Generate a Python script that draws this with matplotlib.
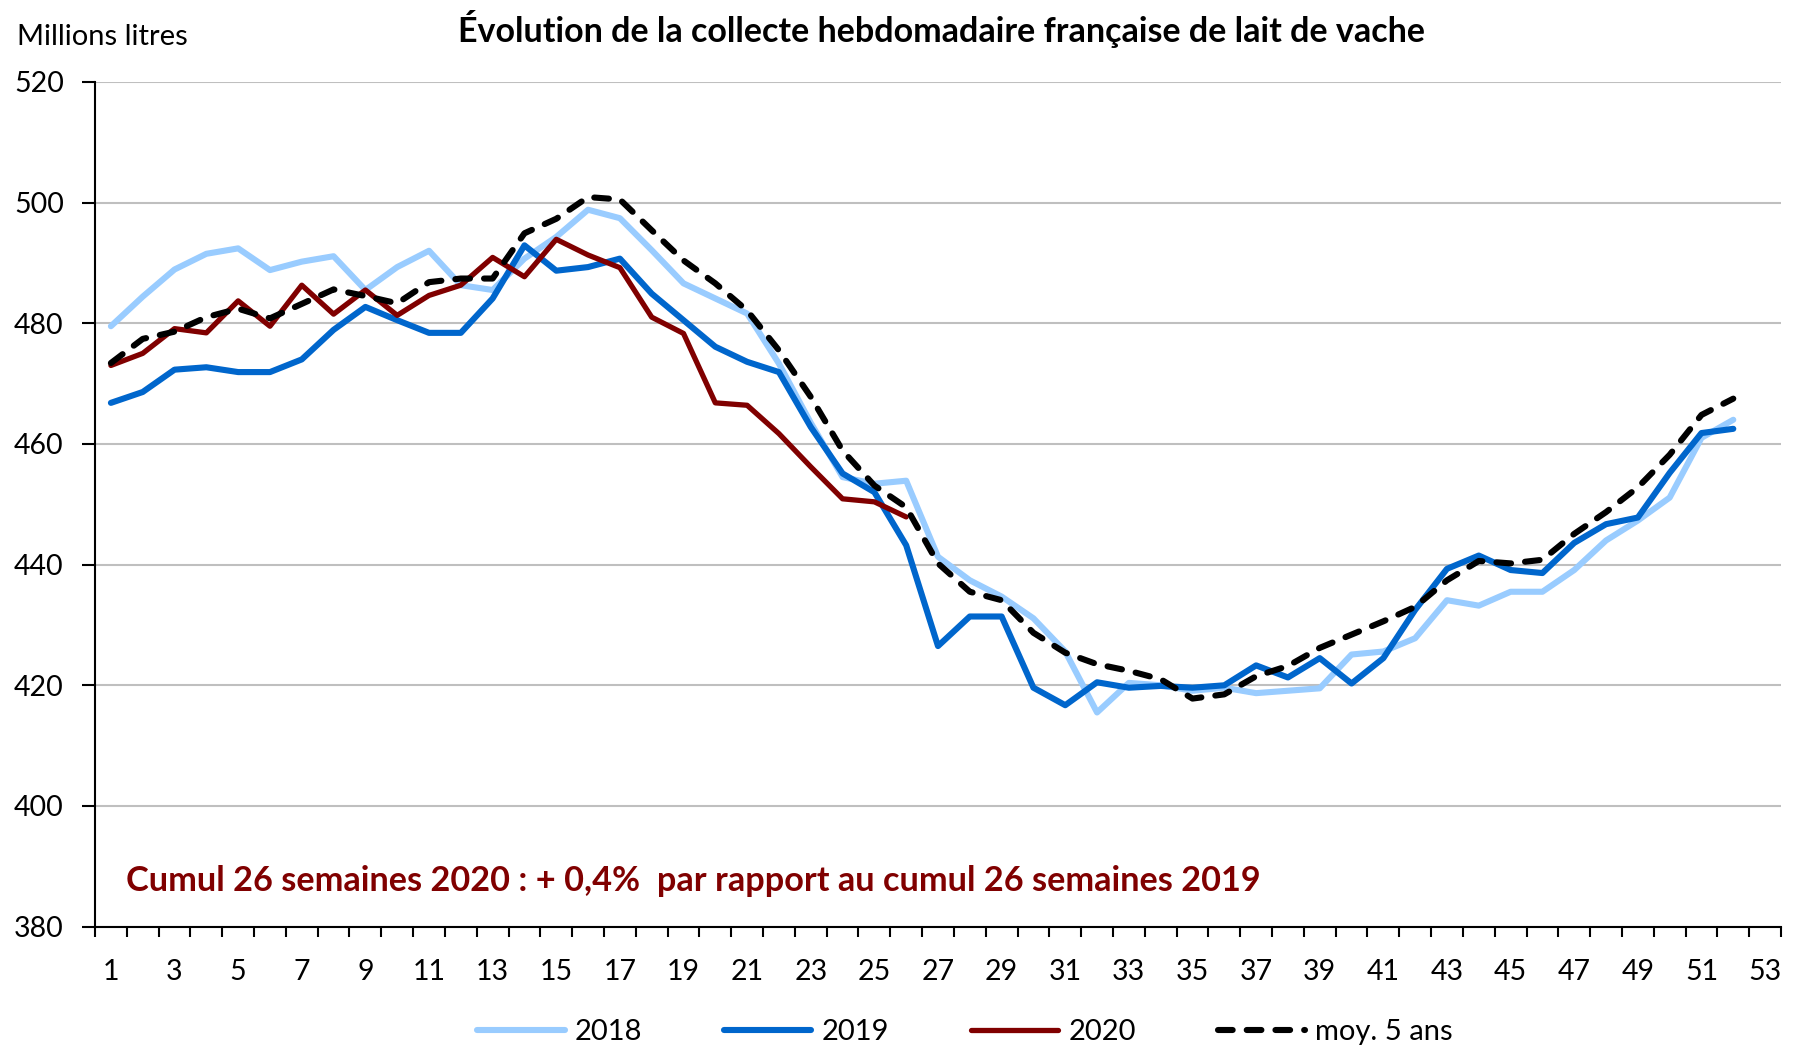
import matplotlib
matplotlib.use("Agg")
import matplotlib.pyplot as plt
from matplotlib.ticker import FixedLocator

plt.rcParams['font.family'] = ['Lato', 'DejaVu Sans']

weeks = list(range(1, 53))
weeks_2020 = list(range(1, 27))

v2018 = [479.5, 484.4, 488.9, 491.5, 492.4, 488.8, 490.2, 491.1, 485.5, 489.3,
         492.0, 486.3, 485.5, 490.7, 494.3, 498.8, 497.4, 492.1, 486.6, 484.1,
         481.6, 473.3, 463.5, 454.5, 453.4, 453.9, 441.3, 437.4, 434.7, 431.1,
         425.6, 415.5, 420.4, 420.0, 419.1, 419.6, 418.7, 419.1, 419.5, 425.1,
         425.6, 427.8, 434.1, 433.2, 435.5, 435.5, 439.1, 444.0, 447.3, 451.1,
         461.0, 464.0]
v2019 = [466.8, 468.6, 472.3, 472.7, 471.9, 471.9, 474.0, 478.9, 482.7, 480.5,
         478.4, 478.4, 484.1, 492.9, 488.7, 489.3, 490.7, 484.9, 480.5, 476.1,
         473.6, 471.9, 462.8, 455.1, 452.0, 443.2, 426.5, 431.4, 431.4, 419.6,
         416.7, 420.5, 419.6, 419.9, 419.6, 420.0, 423.3, 421.3, 424.5, 420.3,
         424.5, 432.5, 439.3, 441.5, 439.1, 438.6, 443.6, 446.7, 447.8, 455.2,
         461.8, 462.5]
v2020 = [473.0, 475.0, 479.1, 478.4, 483.7, 479.5, 486.3, 481.5, 485.5, 481.3,
         484.6, 486.3, 490.9, 487.7, 493.9, 491.3, 489.2, 481.0, 478.3, 466.8,
         466.4, 461.7, 456.2, 450.9, 450.4, 447.9]
moy5 = [473.4, 477.4, 478.6, 481.0, 482.4, 480.8, 483.2, 485.6, 484.5, 483.3,
        486.8, 487.4, 487.4, 494.9, 497.3, 500.9, 500.5, 495.4, 490.4, 486.6,
        482.1, 475.5, 467.8, 458.9, 453.1, 449.5, 440.2, 435.5, 434.1, 428.7,
        425.4, 423.5, 422.4, 421.0, 417.8, 418.5, 421.5, 423.2, 426.2, 428.4,
        430.6, 433.0, 437.4, 440.6, 440.2, 440.8, 445.1, 448.7, 452.8, 458.2,
        464.8, 467.5]

series_labels = ["2018", "2019", "2020", "moy. 5 ans"]
x_tick_labels = [str(w) for w in range(1, 54, 2)]
y_ticks = [380, 400, 420, 440, 460, 480, 500, 520]

title = "Évolution de la collecte hebdomadaire française de lait de vache"
y_unit = "Millions litres"
note = "Cumul 26 semaines 2020 : + 0,4%  par rapport au cumul 26 semaines 2019"

fig = plt.figure(figsize=(17.98, 10.48), dpi=100)
ax = fig.add_axes([95 / 1798, 1 - 926.7 / 1048, 1686 / 1798, (926.7 - 81.8) / 1048])

ax.plot(weeks, v2018, color="#99CCFF", lw=4.4, solid_capstyle="round",
        solid_joinstyle="round", label=series_labels[0], zorder=3)
ax.plot(weeks, v2019, color="#0066CC", lw=4.4, solid_capstyle="round",
        solid_joinstyle="round", label=series_labels[1], zorder=4)
ax.plot(weeks_2020, v2020, color="#800000", lw=3.8, solid_capstyle="round",
        solid_joinstyle="round", label=series_labels[2], zorder=5)
ax.plot(weeks, moy5, color="black", lw=4.4, linestyle=(0, (2.4, 2.3)),
        dash_capstyle="round", label=series_labels[3], zorder=6)

ax.set_xlim(0.5, 53.5)
ax.set_ylim(380, 520)
ax.set_yticks(y_ticks)
ax.set_yticklabels([str(v) for v in y_ticks])
ax.set_xticks(list(range(1, 54, 2)))
ax.set_xticklabels(x_tick_labels)
ax.xaxis.set_minor_locator(FixedLocator([k + 0.5 for k in range(0, 54)]))

ax.tick_params(axis="x", which="major", length=0, pad=23, labelsize=20.5)
ax.tick_params(axis="x", which="minor", length=7.5, width=1.5, direction="out")
ax.tick_params(axis="y", which="major", length=9.5, width=1.5, direction="out",
               pad=13, labelsize=20.5)

ax.grid(axis="y", color="#BFBFBF", lw=1.5, zorder=0)
ax.set_axisbelow(True)
for s in ["top", "right"]:
    ax.spines[s].set_visible(False)
for s in ["left", "bottom"]:
    ax.spines[s].set_linewidth(1.5)
    ax.spines[s].set_zorder(7)

fig.text(942 / 1798, 1 - 29 / 1048, title, ha="center", va="center",
         fontsize=24.5, fontweight="bold")
fig.text(17 / 1798, 1 - 37 / 1048, y_unit, ha="left", va="center", fontsize=21)
fig.text(126 / 1798, 1 - 881 / 1048, note, ha="left", va="center",
         fontsize=24.7, fontweight="bold", color="#800000")

fig.legend(loc="center", bbox_to_anchor=(965 / 1798, 1 - 1032 / 1048), ncol=4,
           frameon=False, fontsize=21, handlelength=3.0, handletextpad=0.35,
           columnspacing=2.8)

fig.savefig("out.png", dpi=100)
